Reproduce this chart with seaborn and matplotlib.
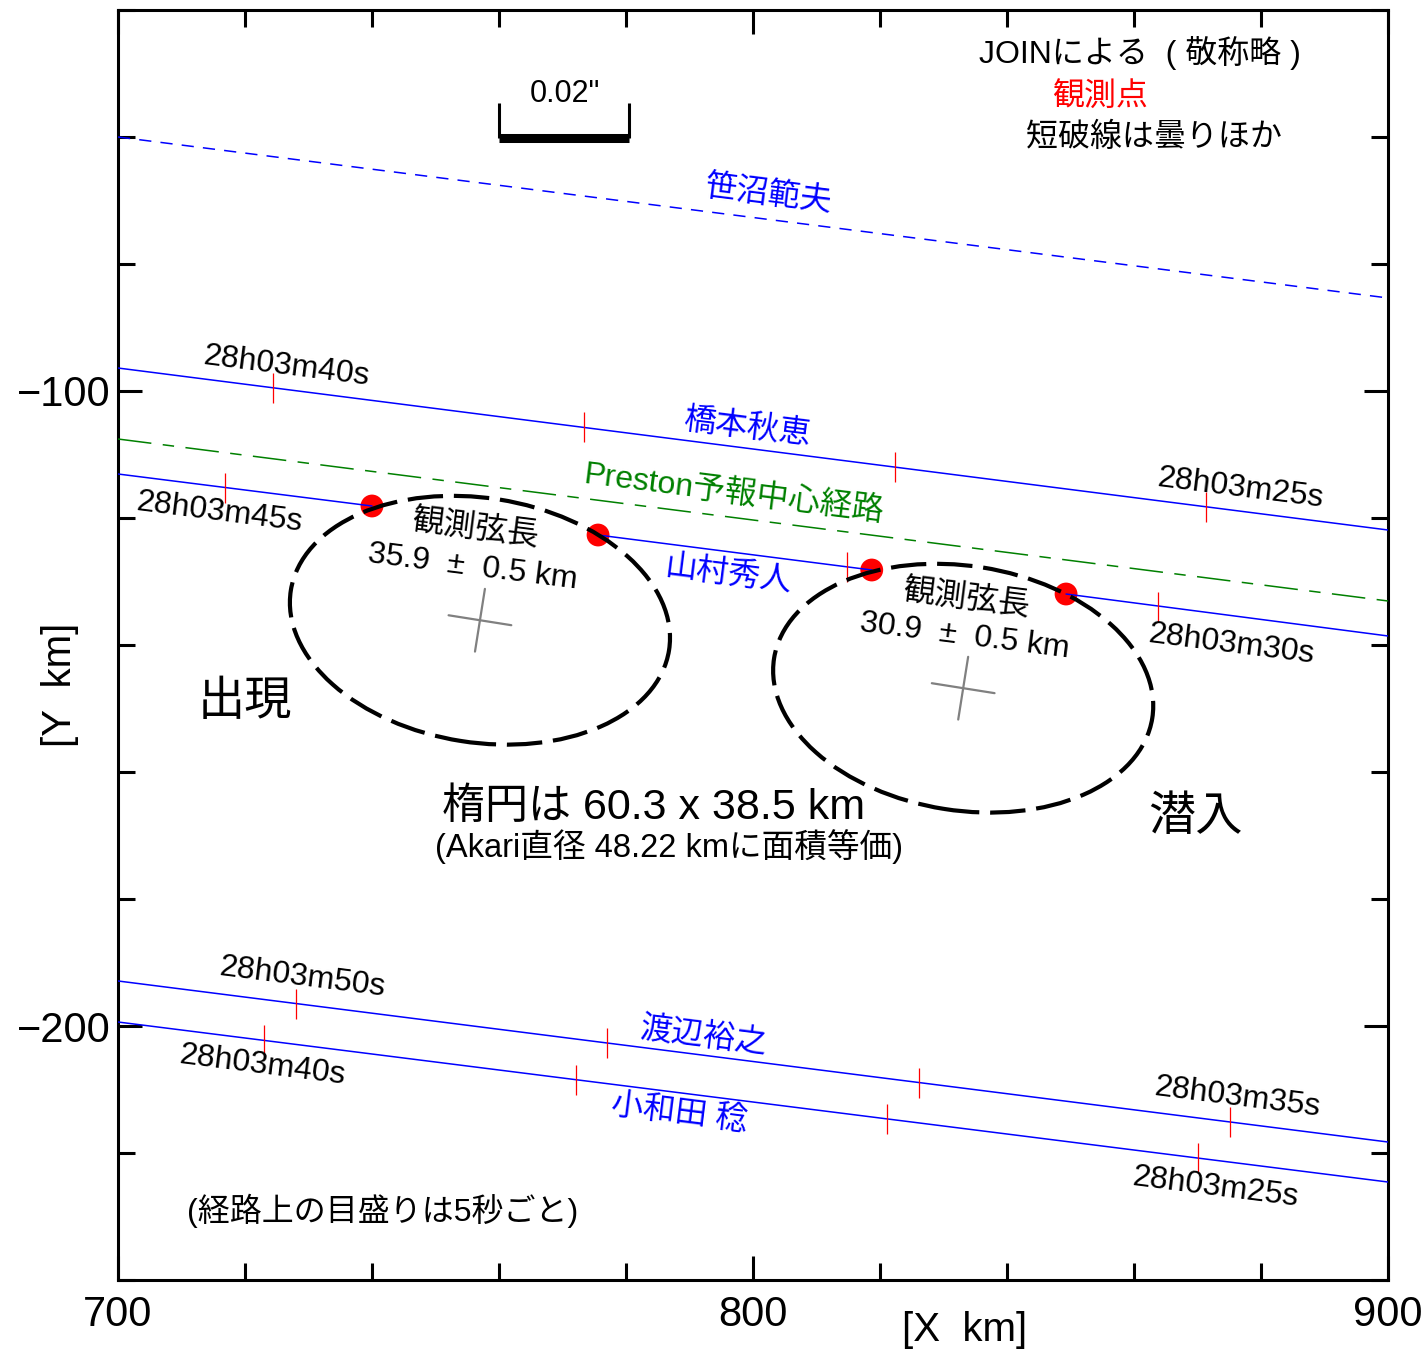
import numpy as np
import pandas as pd
import matplotlib
matplotlib.use("Agg")
import matplotlib.pyplot as plt
from matplotlib.patches import Ellipse
import seaborn as sns

# ---------------- data ----------------
track_x = [700, 900]
sasanuma_y = [-60.0, -85.35]
hashimoto_y = [-96.38, -121.89]
preston_y = [-107.56, -133.07]
yamamura_y = [-113.07, -138.58]
watanabe_y = [-192.91, -218.27]
kowada_y = [-199.37, -224.57]

# observed disappearance / reappearance points (山村秀人)
event_x = [740.0, 775.6, 818.7, 849.3]
event_y = [-118.11, -122.68, -128.19, -131.97]

# 5-second time marks on the tracks
hashimoto_tick_x = [724.4, 773.4, 822.4, 871.3]
hashimoto_tick_y = [-99.49, -105.74, -111.99, -118.23]
yamamura_tick_x = [716.9, 814.8, 863.8]
yamamura_tick_y = [-115.22, -127.71, -133.96]
watanabe_tick_x = [728.0, 777.0, 826.1, 875.1]
watanabe_tick_y = [-196.46, -202.67, -208.90, -215.12]
kowada_tick_x = [723.0, 772.1, 821.1, 870.1]
kowada_tick_y = [-202.27, -208.46, -214.63, -220.80]

ellipse_center_x = [757.0, 833.1]
ellipse_center_y = [-136.1, -146.8]
ellipse_major = 60.3
ellipse_minor = 38.5
ellipse_angle = -9.0
cross_half = 5.0

chord_texts = ["35.9  ±  0.5 km", "30.9  ±  0.5 km"]
observer_names = ["笹沼範夫", "橋本秋恵", "Preston予報中心経路", "山村秀人", "渡辺裕之", "小和田 稔"]
time_labels = ["28h03m40s", "28h03m45s", "28h03m25s", "28h03m30s",
               "28h03m50s", "28h03m40s", "28h03m35s", "28h03m25s"]
scale_bar_x = [760.0, 780.5]
scale_bar_y = -60.08

x_ticks = [700, 800, 900]
y_ticks = [-200, -100]

# ---------------- style ----------------
sns.set_style("ticks")
plt.rcParams['font.family'] = ['Liberation Sans', 'Noto Sans CJK JP']
plt.rcParams['axes.unicode_minus'] = True
for k in ['text.color', 'axes.labelcolor', 'xtick.color', 'ytick.color', 'axes.edgecolor']:
    plt.rcParams[k] = 'black'

fig = plt.figure(figsize=(14.28, 13.53), dpi=100)
ax = fig.add_axes([118 / 1428, 1 - 1280 / 1353, 1270 / 1428, 1270 / 1353])

BLUE = "#0000ff"
GREEN = "#008000"
ROT = -7.2
FS = 23

# red observation points
sns.scatterplot(x=event_x, y=event_y, s=270, color="red", edgecolor="none",
                ax=ax, zorder=2, legend=False)

# tracks
sns.lineplot(x=track_x, y=sasanuma_y, color=BLUE, linewidth=1.1,
             linestyle=(0, (8, 6)), ax=ax, zorder=3)
sns.lineplot(x=track_x, y=hashimoto_y, color=BLUE, linewidth=1.1, ax=ax, zorder=3)
sns.lineplot(x=track_x, y=preston_y, color=GREEN, linewidth=1.1,
             linestyle=(0, (22, 7.5, 7.5, 7.5)), ax=ax, zorder=3)
# 山村 track, interrupted during the occultations
yam_seg_x = [track_x[0]] + event_x + [track_x[1]]
yam_seg_y = [yamamura_y[0]] + event_y + [yamamura_y[1]]
for i in range(0, len(yam_seg_x), 2):
    sns.lineplot(x=yam_seg_x[i:i + 2], y=yam_seg_y[i:i + 2], color=BLUE,
                 linewidth=1.1, ax=ax, zorder=3)
sns.lineplot(x=track_x, y=watanabe_y, color=BLUE, linewidth=1.1, ax=ax, zorder=3)
sns.lineplot(x=track_x, y=kowada_y, color=BLUE, linewidth=1.1, ax=ax, zorder=3)

# time marks
TICK_H = 2.36
for tx, ty in [(hashimoto_tick_x, hashimoto_tick_y), (yamamura_tick_x, yamamura_tick_y),
               (watanabe_tick_x, watanabe_tick_y), (kowada_tick_x, kowada_tick_y)]:
    ty = np.asarray(ty)
    ax.vlines(tx, ty - TICK_H, ty + TICK_H, colors="red", linewidth=0.9, zorder=3)

# ellipses + centre crosses
th = np.deg2rad(ellipse_angle)
u = np.array([np.cos(th), np.sin(th)])
v = np.array([-np.sin(th), np.cos(th)])
for cx, cy in zip(ellipse_center_x, ellipse_center_y):
    e = Ellipse((cx, cy), ellipse_major, ellipse_minor, angle=ellipse_angle,
                fill=False, edgecolor="black", linewidth=3.0,
                linestyle=(0, (8.5, 2.6)), zorder=4)
    ax.add_patch(e)
    for d in (u, v):
        ax.plot([cx - cross_half * d[0], cx + cross_half * d[0]],
                [cy - cross_half * d[1], cy + cross_half * d[1]],
                color="#808080", linewidth=1.6, zorder=3)

# scale bar
ax.plot(scale_bar_x, [scale_bar_y, scale_bar_y], color="black", linewidth=6.5,
        solid_capstyle="butt", zorder=3)
for sx in scale_bar_x:
    ax.plot([sx, sx], [scale_bar_y, scale_bar_y + 5.4], color="black",
            linewidth=2.2, solid_capstyle="butt", zorder=3)
ax.text(770.4, -53.3, '0.02"', fontsize=22, ha="center", va="center")

# ---------------- texts ----------------
def rtext(x, y, s, color="black", size=FS):
    ax.text(x, y, s, color=color, fontsize=size, ha="center", va="center",
            rotation=ROT, rotation_mode="anchor", zorder=6)

name_pos = [(802.4, -69.1), (799.1, -105.8), (796.9, -116.2),
            (796.2, -129.0), (792.3, -201.7), (788.4, -213.7)]
name_col = [BLUE, BLUE, GREEN, BLUE, BLUE, BLUE]
for (x, y), s, c in zip(name_pos, observer_names, name_col):
    rtext(x, y, s, color=c)

time_pos = [(726.5, -96.2), (715.9, -119.2), (876.7, -115.4), (875.3, -140.0),
            (729.0, -192.4), (722.8, -206.3), (876.2, -211.2), (872.8, -225.4)]
for (x, y), s in zip(time_pos, time_labels):
    rtext(x, y, s)

rtext(756.2, -121.9, "観測弦長")
rtext(755.8, -127.7, chord_texts[0])
rtext(833.5, -132.9, "観測弦長")
rtext(833.4, -138.7, chord_texts[1])

ax.text(720.0, -149.1, "出現", fontsize=34, ha="center", va="center")
ax.text(869.6, -167.2, "潜入", fontsize=34, ha="center", va="center")
ax.text(784.3, -165.7, "楕円は 60.3 x 38.5 km", fontsize=31, ha="center", va="center")
ax.text(786.8, -171.8, "(Akari直径 48.22 kmに面積等価)", fontsize=23.5, ha="center", va="center")
ax.text(741.6, -229.1, "(経路上の目盛りは5秒ごと)", fontsize=23, ha="center", va="center")

ax.text(860.9, -46.8, "JOINによる  ( 敬称略 )", fontsize=23, ha="center", va="center")
ax.text(854.7, -53.8, "観測点", fontsize=23, ha="center", va="center", color="red")
ax.text(863.1, -60.1, "短破線は曇りほか", fontsize=23, ha="center", va="center")

# ---------------- axes ----------------
ax.set_xlim(700, 900)
ax.set_ylim(-240, -40)
ax.set_aspect("equal", adjustable="box")
ax.set_xticks(x_ticks)
ax.set_yticks(y_ticks)
ax.set_xticks(np.arange(700, 901, 20), minor=True)
ax.set_yticks(np.arange(-240, -39, 20), minor=True)
ax.tick_params(which="both", direction="in", top=True, right=True,
               width=2.2, labelsize=30, color="black", labelcolor="black")
ax.tick_params(which="major", length=17)
ax.tick_params(which="minor", length=12)
ax.tick_params(axis="x", which="major", pad=11)
ax.tick_params(axis="y", which="major", pad=5)
for sp in ax.spines.values():
    sp.set_linewidth(2.2)
    sp.set_color("black")
ax.set_xlabel("")
ax.set_ylabel("")

fig.text(965 / 1428, 1 - 1330 / 1353, "[X  km]", fontsize=29, ha="center", va="center")
fig.text(60 / 1428, 1 - 685 / 1353, "[Y  km]", fontsize=29, ha="center", va="center",
         rotation=90)

fig.savefig("out.png", dpi=100)
